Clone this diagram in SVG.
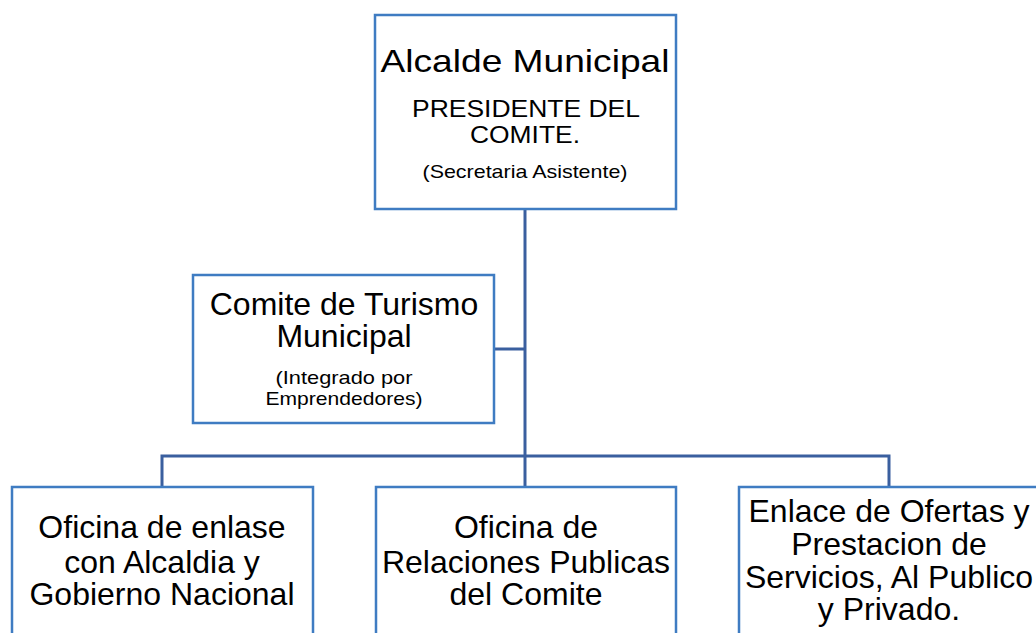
<svg xmlns="http://www.w3.org/2000/svg" width="1036" height="633" viewBox="0 0 1036 633">
<style>
.box{fill:#ffffff;stroke:#3f7cc2;stroke-width:2.5}
.conn{fill:none;stroke:#3a5f9f;stroke-width:3}
text{font-family:"Liberation Sans",Arial,sans-serif;fill:#000;text-anchor:middle}
.big{font-size:32px}
.mid{font-size:23px}
.sm{font-size:19px}
</style>
<rect width="1036" height="633" fill="#ffffff"/>
<g id="connectors">
<path class="conn" d="M525 209 V456"/>
<path class="conn" d="M494 349 H525"/>
<path class="conn" d="M162 487 V456 H889 V487"/>
<path class="conn" d="M525 456 V487"/>
</g>
<g id="alcalde">
<rect class="box" x="375" y="15" width="301" height="194"/>
<text class="big" x="525" y="72" textLength="289" lengthAdjust="spacingAndGlyphs">Alcalde Municipal</text>
<text class="mid" x="526" y="117" textLength="228" lengthAdjust="spacingAndGlyphs">PRESIDENTE DEL</text>
<text class="mid" x="525" y="143" textLength="110" lengthAdjust="spacingAndGlyphs">COMITE.</text>
<text class="sm" x="525" y="178" textLength="205" lengthAdjust="spacingAndGlyphs">(Secretaria Asistente)</text>
</g>
<g id="comite">
<rect class="box" x="193" y="275" width="301" height="148"/>
<text class="big" x="344" y="315">Comite de Turismo</text>
<text class="big" x="344" y="347">Municipal</text>
<text class="sm" x="344" y="384" textLength="137" lengthAdjust="spacingAndGlyphs">(Integrado por</text>
<text class="sm" x="344" y="405" textLength="157" lengthAdjust="spacingAndGlyphs">Emprendedores)</text>
</g>
<g id="oficina-enlase">
<rect class="box" x="12" y="487" width="301" height="160"/>
<text class="big" x="162" y="538">Oficina de enlase</text>
<text class="big" x="162" y="573">con Alcaldia y</text>
<text class="big" x="162" y="605">Gobierno Nacional</text>
</g>
<g id="oficina-relaciones">
<rect class="box" x="376" y="487" width="300" height="160"/>
<text class="big" x="526" y="538">Oficina de</text>
<text class="big" x="526" y="573">Relaciones Publicas</text>
<text class="big" x="526" y="605">del Comite</text>
</g>
<g id="enlace-ofertas">
<rect class="box" x="739" y="487" width="301" height="160"/>
<text class="big" x="889" y="522">Enlace de Ofertas y</text>
<text class="big" x="889" y="555">Prestacion de</text>
<text class="big" x="889" y="588">Servicios, Al Publico</text>
<text class="big" x="889" y="620">y Privado.</text>
</g>
</svg>
